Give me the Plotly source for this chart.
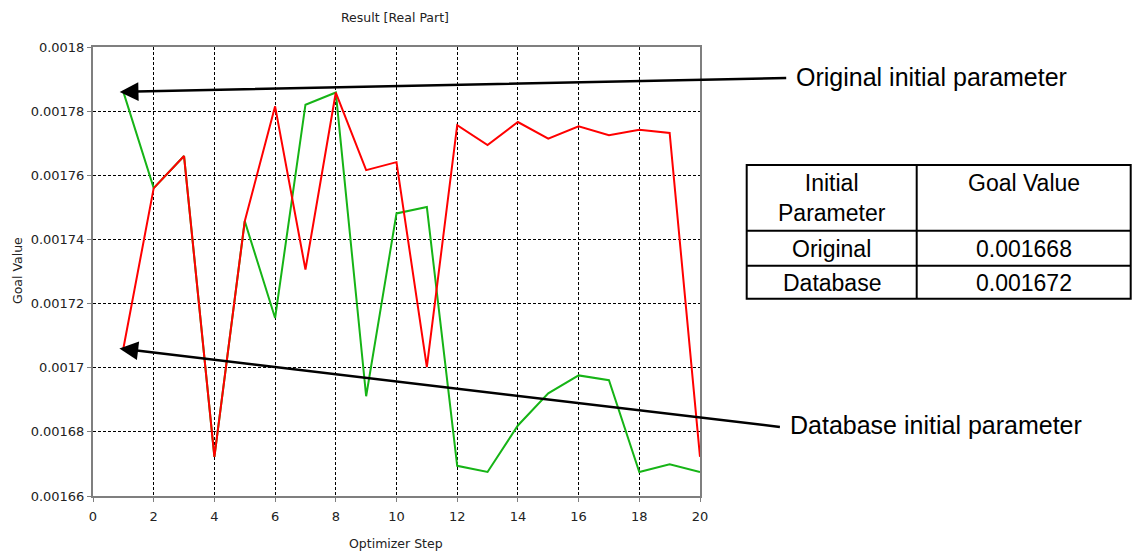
import plotly.graph_objects as go

# ---------------- data ----------------
steps = list(range(1, 21))
original_goal = [0.001786, 0.001756, 0.001766, 0.0016722, 0.0017457, 0.0017155, 0.001782,
                 0.0017858, 0.0016911, 0.0017481, 0.0017501, 0.0016694, 0.0016675, 0.001682,
                 0.001692, 0.0016976, 0.0016961, 0.0016675, 0.0016699, 0.0016675]
database_goal = [0.001706, 0.001756, 0.001766, 0.0016722, 0.0017457, 0.0017815, 0.0017306,
                 0.0017858, 0.0017616, 0.0017641, 0.0017002, 0.0017756, 0.0017694, 0.0017766,
                 0.0017714, 0.0017753, 0.0017725, 0.0017742, 0.0017732, 0.0016722]

x_ticks = list(range(0, 21, 2))
y_ticks = [0.00166, 0.00168, 0.0017, 0.00172, 0.00174, 0.00176, 0.00178, 0.0018]
y_tick_labels = ["0.00166", "0.00168", "0.0017", "0.00172", "0.00174", "0.00176", "0.00178", "0.0018"]

table_header = ["Initial<br>Parameter", "Goal Value"]
table_rows = [["Original", "0.001668"], ["Database", "0.001672"]]

# ---------------- layout geometry ----------------
W, H = 1134, 553
L, R, T, B = 93, 434, 47, 57
PW, PH = W - L - R, H - T - B


def px(xp):
    return (xp - L) / PW


def py(yp):
    return (H - B - yp) / PH


fig = go.Figure()
fig.add_trace(go.Scatter(x=steps, y=original_goal, mode="lines",
                         line=dict(color="#16b416", width=2), name="Original",
                         showlegend=False))
fig.add_trace(go.Scatter(x=steps, y=database_goal, mode="lines",
                         line=dict(color="#ff0000", width=2), name="Database",
                         showlegend=False))

tick_font = dict(family="DejaVu Sans", size=13, color="#222222")
title_font = dict(family="DejaVu Sans", size=12.5, color="#222222")

fig.update_layout(
    width=W, height=H,
    margin=dict(l=L, r=R, t=T, b=B, pad=0),
    paper_bgcolor="white", plot_bgcolor="white",
    font=tick_font,
    xaxis=dict(range=[0, 20], tickvals=x_ticks, ticktext=[str(v) for v in x_ticks],
               showgrid=True, gridcolor="black", gridwidth=1, griddash="3px,2px",
               showline=True, linecolor="#7f7f7f", linewidth=2, mirror=True,
               ticks="outside", ticklen=4, tickcolor="#7f7f7f", tickwidth=1,
               ticklabelstandoff=3, zeroline=False, tickfont=tick_font),
    yaxis=dict(range=[0.00166, 0.0018], tickvals=y_ticks, ticktext=y_tick_labels,
               showgrid=True, gridcolor="black", gridwidth=1, griddash="3px,2px",
               showline=True, linecolor="#7f7f7f", linewidth=2, mirror=True,
               ticks="outside", ticklen=4, tickcolor="#7f7f7f", tickwidth=1,
               zeroline=False, tickfont=tick_font),
)

ann = []
# titles
ann.append(dict(text="Result [Real Part]", xref="paper", yref="paper", x=px(395), y=py(17),
                showarrow=False, font=title_font, xanchor="center", yanchor="middle"))
ann.append(dict(text="Optimizer Step", xref="paper", yref="paper", x=px(396), y=py(543),
                showarrow=False, font=title_font, xanchor="center", yanchor="middle"))
ann.append(dict(text="Goal Value", xref="paper", yref="paper", x=px(17), y=py(271),
                showarrow=False, font=title_font, textangle=-90, xanchor="center", yanchor="middle"))

# arrows pointing at the initial parameters
callout_font = dict(family="Liberation Sans, Arial", size=25, color="black")
ann.append(dict(text="", x=0.88, y=original_goal[0], xref="x", yref="y",
                ax=788 - 120, ay=76.7 - 90.7, axref="pixel", ayref="pixel",
                showarrow=True, arrowhead=2, arrowsize=1.5, arrowwidth=2.5, arrowcolor="black"))
ann.append(dict(text="", x=0.87, y=database_goal[0], xref="x", yref="y",
                ax=781 - 119, ay=421.7 - 343, axref="pixel", ayref="pixel",
                showarrow=True, arrowhead=2, arrowsize=1.5, arrowwidth=2.5, arrowcolor="black"))
ann.append(dict(text="Original initial parameter", xref="paper", yref="paper", x=px(794), y=py(77),
                showarrow=False, font=callout_font, xanchor="left", yanchor="middle"))
ann.append(dict(text="Database initial parameter", xref="paper", yref="paper", x=px(788), y=py(425),
                showarrow=False, font=callout_font, xanchor="left", yanchor="middle"))

# table
tx0, tx1, tx2 = 746.7, 916.7, 1130.7
ty = [165, 230.7, 265.7, 298.7]
shapes = []
shapes.append(dict(type="rect", xref="paper", yref="paper", x0=px(tx0), x1=px(tx2),
                   y0=py(ty[0]), y1=py(ty[-1]), line=dict(color="black", width=2)))
shapes.append(dict(type="line", xref="paper", yref="paper", x0=px(tx1), x1=px(tx1),
                   y0=py(ty[0]), y1=py(ty[-1]), line=dict(color="black", width=2)))
for yy in ty[1:-1]:
    shapes.append(dict(type="line", xref="paper", yref="paper", x0=px(tx0), x1=px(tx2),
                       y0=py(yy), y1=py(yy), line=dict(color="black", width=2)))

table_font = dict(family="Liberation Sans, Arial", size=23, color="black")
c0, c1 = (tx0 + tx1) / 2, (tx1 + tx2) / 2
ann.append(dict(text=table_header[0], xref="paper", yref="paper", x=px(c0), y=py(168),
                showarrow=False, font=table_font, xanchor="center", yanchor="top"))
ann.append(dict(text=table_header[1], xref="paper", yref="paper", x=px(c1), y=py(168),
                showarrow=False, font=table_font, xanchor="center", yanchor="top"))
row_centers = [249, 282.7]
for (name, val), yc in zip(table_rows, row_centers):
    ann.append(dict(text=name, xref="paper", yref="paper", x=px(c0), y=py(yc),
                    showarrow=False, font=table_font, xanchor="center", yanchor="middle"))
    ann.append(dict(text=val, xref="paper", yref="paper", x=px(c1), y=py(yc),
                    showarrow=False, font=table_font, xanchor="center", yanchor="middle"))

fig.update_layout(annotations=ann, shapes=shapes)
fig.write_html("out.html", config={"displayModeBar": False},
               post_script="document.body.style.margin='0';document.body.style.overflow='hidden';")
